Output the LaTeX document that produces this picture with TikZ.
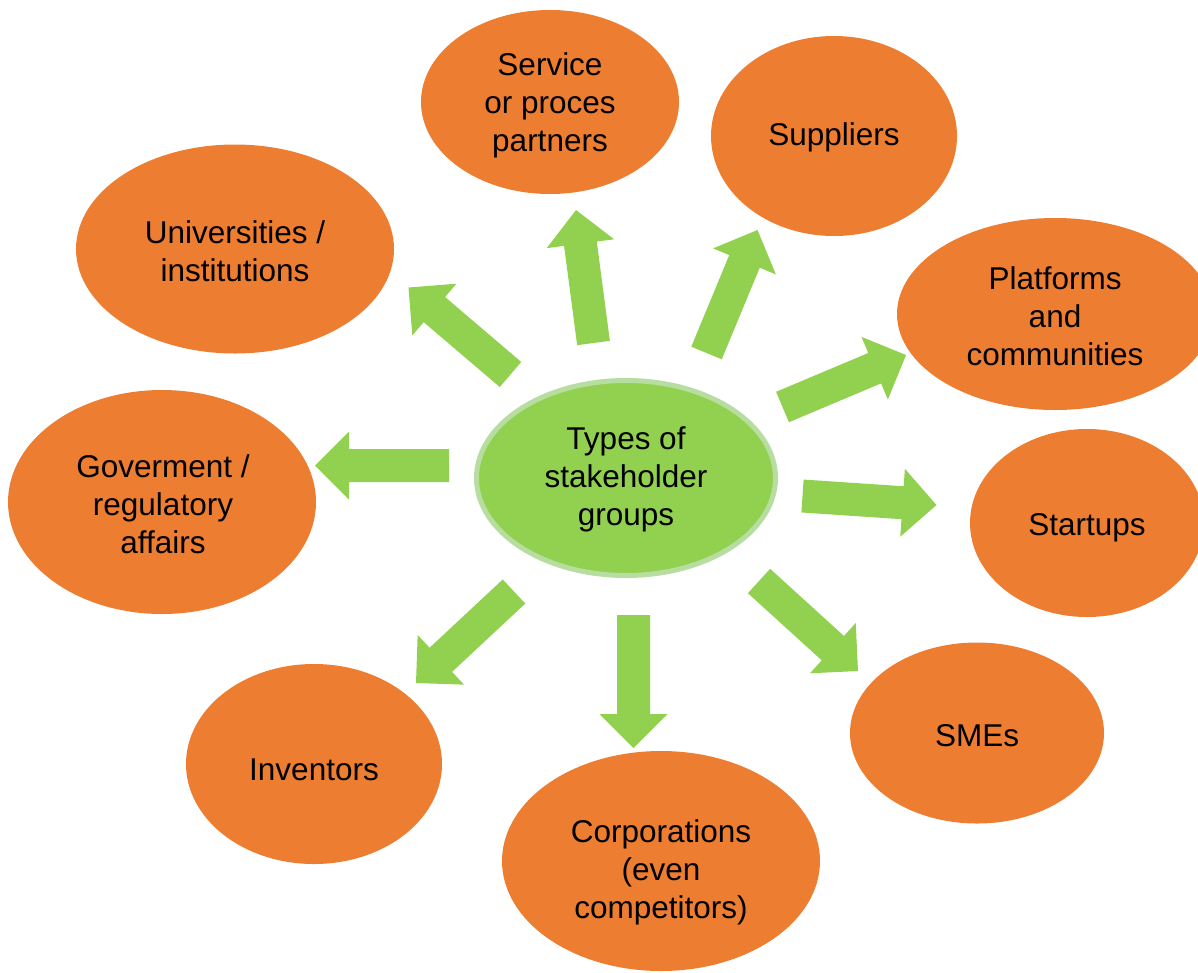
\documentclass[tikz,border=0pt]{standalone}
\usepackage{fontspec}
\setmainfont{Liberation Sans}
\usetikzlibrary{shapes.geometric,calc}
\definecolor{orangefill}{HTML}{ED7D31}
\definecolor{greenfill}{HTML}{92D050}
\definecolor{greenedge}{HTML}{B8DDA0}
\tikzset{
  stake/.style={ellipse, fill=orangefill, draw=none, inner sep=0pt},
  hub/.style={ellipse, fill=greenfill, draw=greenedge, line width=5pt, inner sep=0pt},
  label text/.style={align=center, inner sep=0pt, font=\fontsize{31.5}{38}\selectfont, text=black},
  blockfill/.style={fill=greenfill, draw=none}
}
\newcommand{\blockarr}[2]{%
  \coordinate (#1b) at ($(#2)!34pt!(#1)$);
  \fill[blockfill] ($(#1)!16.5pt!90:(#2)$) -- ($(#1b)!16.5pt!90:(#2)$) -- ($(#1b)!34pt!90:(#2)$)
    -- (#2) -- ($(#1b)!34pt!-90:(#2)$) -- ($(#1b)!16.5pt!-90:(#2)$) -- ($(#1)!16.5pt!-90:(#2)$) -- cycle;
}
\begin{document}
\begin{tikzpicture}[x=1pt,y=-1pt]
\useasboundingbox (0,0) rectangle (1198,972);
\clip (0,0) rectangle (1198,972);
\node[stake, minimum width=258pt, minimum height=184pt] (serv) at (550,102) {};
\node[stake, minimum width=246pt, minimum height=200pt] (supp) at (834,136) {};
\node[stake, minimum width=318pt, minimum height=209pt] (univ) at (235,249) {};
\node[stake, minimum width=316pt, minimum height=192pt] (plat) at (1055,314) {};
\node[stake, minimum width=308pt, minimum height=224pt] (gov) at (162,502) {};
\node[stake, minimum width=234pt, minimum height=188pt] (start) at (1087,523) {};
\node[stake, minimum width=254pt, minimum height=181pt] (smes) at (977,733) {};
\node[stake, minimum width=256pt, minimum height=200pt] (inv) at (314,764) {};
\node[stake, minimum width=318pt, minimum height=220pt] (corp) at (661,861) {};
\node[hub, minimum width=299pt, minimum height=195pt] (hub) at (626,478) {};
\node[label text] (servt) at (550,105) {Service\\or proces\\partners};
\node[label text] (suppt) at (834,137) {Suppliers};
\node[label text] (univt) at (235,251) {Universities /\\institutions};
\node[label text] (platt) at (1055,316) {Platforms\\and\\communities};
\node[label text] (govt) at (163,504) {Goverment /\\regulatory\\affairs};
\node[label text] (startt) at (1087,528) {Startups};
\node[label text] (smest) at (977,736) {SMEs};
\node[label text] (invt) at (314,770) {Inventors};
\node[label text] (corpt) at (661,872) {Corporations\\(even\\competitors)};
\node[label text] (hubt) at (626,479) {Types of\\stakeholder\\groups};
% arrow tails and tips
\coordinate (tuniv) at (510.5,374.5); \coordinate (puniv) at (408.5,287.5);
\coordinate (tserv) at (593.5,343);   \coordinate (pserv) at (576,210);
\coordinate (tsupp) at (706.5,353);   \coordinate (psupp) at (757.5,230);
\coordinate (tplat) at (782.5,407);   \coordinate (pplat) at (906,355);
\coordinate (tstart) at (802.5,496);  \coordinate (pstart) at (936.5,505);
\coordinate (tsmes) at (759,581);     \coordinate (psmes) at (858,671);
\coordinate (tcorp) at (633.5,615);   \coordinate (pcorp) at (633.5,748);
\coordinate (tinv) at (514,591.5);    \coordinate (pinv) at (416,683);
\coordinate (tgov) at (449,465.5);    \coordinate (pgov) at (315,465.5);
\blockarr{tuniv}{puniv}
\blockarr{tserv}{pserv}
\blockarr{tsupp}{psupp}
\blockarr{tplat}{pplat}
\blockarr{tstart}{pstart}
\blockarr{tsmes}{psmes}
\blockarr{tcorp}{pcorp}
\blockarr{tinv}{pinv}
\blockarr{tgov}{pgov}
\end{tikzpicture}
\end{document}
